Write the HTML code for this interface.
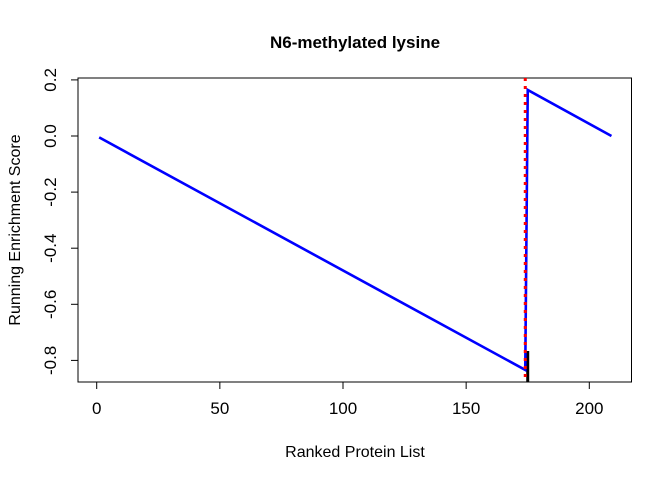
<!DOCTYPE html>
<html><head><meta charset="utf-8"><style>
body{margin:0;background:#fff}
svg text{font-family:"Liberation Sans",Arial,sans-serif;fill:#000}
</style></head><body>
<svg id="c" width="672" height="480">
<text x="355" y="48" text-anchor="middle" font-size="17" font-weight="bold">N6-methylated lysine</text>
<text x="355" y="457" text-anchor="middle" font-size="16">Ranked Protein List</text>
<text transform="translate(20,230) rotate(-90)" text-anchor="middle" font-size="16">Running Enrichment Score</text>
<rect x="78" y="78" width="553.5" height="304" fill="none" stroke="#000"/>
<g id="ax"></g><g id="marks"></g>
</svg>
<script>
const xTicks=[0,50,100,150,200];
const yTicks=[0.2,0.0,-0.2,-0.4,-0.6,-0.8];
const rankX=[1,174,175,209];
const scoreY=[-0.005,-0.834,0.164,0.0];
const leadingEdge=174;
const hits=[175];
const NS="http://www.w3.org/2000/svg";
const sx=v=>96.7+v*2.463;
const sy=v=>136-v*280.5;
function mk(t,a,p){const e=document.createElementNS(NS,t);for(const k in a)e.setAttribute(k,a[k]);p.appendChild(e);return e;}
const ax=document.getElementById('ax'),mg=document.getElementById('marks');
xTicks.forEach(t=>{
 const l=mk('line',{x1:sx(t),x2:sx(t),y1:382,y2:389,stroke:'#000'},ax);
 
 
 const tx=mk('text',{x:sx(t),y:414,'text-anchor':'middle','font-size':17},ax);tx.textContent=t;
 
 
});
yTicks.forEach(t=>{
 const l=mk('line',{x1:71,x2:78,y1:sy(t),y2:sy(t),stroke:'#000'},ax);
 
 
 const tx=mk('text',{'text-anchor':'middle','font-size':17,transform:`translate(56,${sy(t)}) rotate(-90)`},ax);tx.textContent=t.toFixed(1);
 
 
});
hits.forEach(h=>{
 const l=mk('line',{x1:sx(h),x2:sx(h),y1:351,y2:382,stroke:'#000','stroke-width':3},mg);
 
 
});
const p=mk('polyline',{points:rankX.map((x,i)=>sx(x)+','+sy(scoreY[i])).join(' '),fill:'none',stroke:'#0000ff','stroke-width':2.6},mg);


const r=mk('line',{x1:sx(leadingEdge),x2:sx(leadingEdge),y1:78,y2:382,stroke:'#ff0000','stroke-width':3,'stroke-dasharray':'3,5'},mg);


</script>
</body></html>
